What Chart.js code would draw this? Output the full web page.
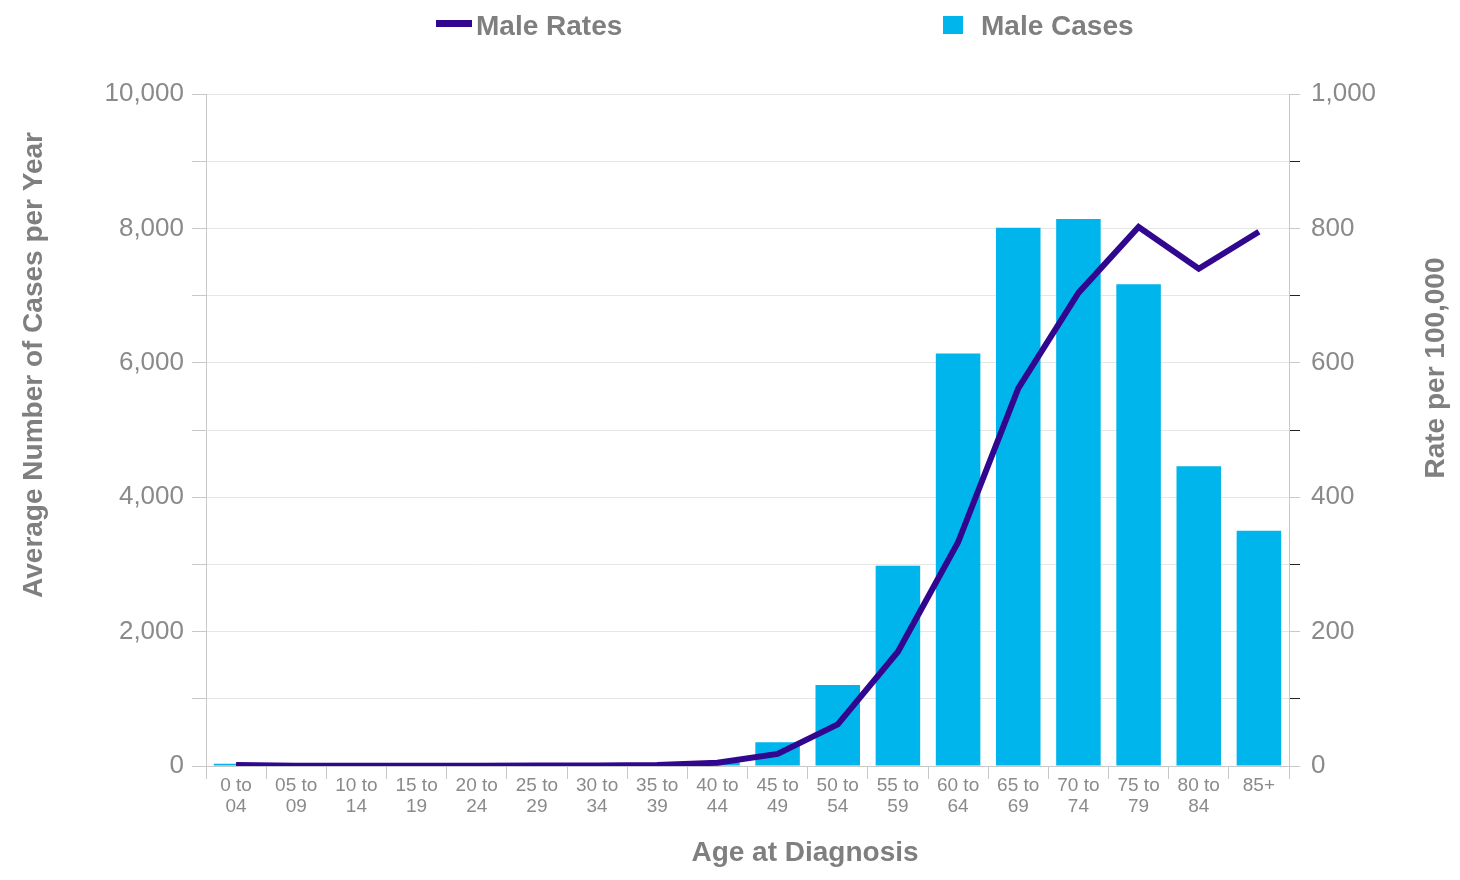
<!DOCTYPE html>
<html>
<head>
<meta charset="utf-8">
<title>Male Rates and Cases by Age</title>
<script src="https://cdn.jsdelivr.net/npm/chart.js@4/dist/chart.umd.min.js"></script>
<style>
  body { margin: 0; background: #fff; }
</style>
</head>
<body>
<canvas id="ageChart" width="1460" height="880"></canvas>
<script>
// DATA

const ageGroups = [
  "0 to 04", "05 to 09", "10 to 14", "15 to 19", "20 to 24", "25 to 29",
  "30 to 34", "35 to 39", "40 to 44", "45 to 49", "50 to 54", "55 to 59",
  "60 to 64", "65 to 69", "70 to 74", "75 to 79", "80 to 84", "85+",
];

// average number of cases per year (left axis)
const maleCases = [
  35, 3, 3, 5, 8, 12, 15, 25, 70, 355, 1205, 2980,
  6140, 8010, 8140, 7170, 4460, 3500,
];

// rate per 100,000 (right axis)
const maleRates = [
  1.5, 0.5, 0.5, 0.5, 0.5, 0.6, 0.8, 1.5, 5, 18, 62, 170,
  333, 562, 704, 802, 740, 795,
];

const caseTicks = { min: 0, max: 10000, step: 1000, labelEvery: 2000 };
const rateTicks = { min: 0, max: 1000, step: 100, labelEvery: 200 };

const FONT = '"Liberation Sans", Arial, sans-serif';
const GREY_TEXT = "#8a8a8a";
const GREY_TITLE = "#7f7f7f";
const AXIS_LINE = "#c8c8c8";

// legend + axis titles drawn by hand so they sit where the original has them
const overlay = {
  id: "overlay",
  afterDraw(chart) {
    const ctx = chart.ctx;
    const rates = chart.data.datasets[0];
    const cases = chart.data.datasets[1];
    ctx.save();

    // legend
    ctx.fillStyle = rates.borderColor;
    ctx.fillRect(436, 20, 36, 7);
    ctx.fillStyle = cases.backgroundColor;
    ctx.fillRect(943, 16, 20, 18);
    ctx.font = "bold 28px " + FONT;
    ctx.fillStyle = GREY_TITLE;
    ctx.textBaseline = "middle";
    ctx.textAlign = "left";
    ctx.fillText(rates.label, 476, 27);
    ctx.fillText(cases.label, 981, 27);

    // x title
    ctx.textAlign = "center";
    ctx.fillText("Age at Diagnosis", 805, 853);

    // y titles, both reading bottom to top
    ctx.translate(34, 365);
    ctx.rotate(-Math.PI / 2);
    ctx.fillText("Average Number of Cases per Year", 0, 0);
    ctx.rotate(Math.PI / 2);
    ctx.translate(1436 - 34, 368 - 365);
    ctx.rotate(-Math.PI / 2);
    ctx.fillText("Rate per 100,000", 0, 0);

    ctx.restore();
  },
};

const ageChart = document.getElementById("ageChart");

new Chart(ageChart, {
  type: "bar",
  data: {
    labels: ageGroups,
    datasets: [
      {
        type: "line",
        label: "Male Rates",
        data: maleRates,
        yAxisID: "yRate",
        borderColor: "#32078f",
        borderWidth: 6,
        borderJoinStyle: "miter",
        pointRadius: 0,
        tension: 0,
        order: 0,
      },
      {
        type: "bar",
        label: "Male Cases",
        data: maleCases,
        yAxisID: "yCases",
        backgroundColor: "#00b5ec",
        barPercentage: 0.74,
        categoryPercentage: 1.0,
        order: 1,
      },
    ],
  },
  options: {
    responsive: false,
    devicePixelRatio: 1,
    animation: false,
    layout: {
      padding: { top: 94, left: 0, right: 0, bottom: 0 },
    },
    plugins: {
      legend: { display: false },
      tooltip: { enabled: false },
    },
    scales: {
      x: {
        grid: {
          offset: true,
          drawOnChartArea: false,
          tickLength: 13,
          color: AXIS_LINE,
        },
        border: { color: AXIS_LINE },
        ticks: {
          autoSkip: false,
          maxRotation: 0,
          padding: -4,
          color: GREY_TEXT,
          font: { family: FONT, size: 19, lineHeight: 1.1 },
          callback: function (value) {
            const s = this.getLabelForValue(value);
            if (s.indexOf(" to ") < 0) return s;
            const i = s.lastIndexOf(" ");
            return [s.slice(0, i), s.slice(i + 1)];
          },
        },
        afterFit: (scale) => {
          scale.height = 114;
        },
      },
      yCases: {
        position: "left",
        min: caseTicks.min,
        max: caseTicks.max,
        grid: {
          color: "#e6e6e6",
          tickLength: 14,
          tickColor: AXIS_LINE,
        },
        border: { color: AXIS_LINE },
        ticks: {
          stepSize: caseTicks.step,
          padding: 8,
          color: GREY_TEXT,
          font: { family: FONT, size: 26 },
          callback: (v) => (v % caseTicks.labelEvery === 0 ? v.toLocaleString("en-US") : ""),
        },
        afterFit: (scale) => {
          scale.width = 206;
        },
      },
      yRate: {
        position: "right",
        min: rateTicks.min,
        max: rateTicks.max,
        grid: {
          drawOnChartArea: false,
          tickLength: 11,
          color: AXIS_LINE,
          tickColor: (ctx) =>
            ctx.tick && ctx.tick.value % rateTicks.labelEvery !== 0 ? "#222" : AXIS_LINE,
        },
        border: { color: AXIS_LINE },
        ticks: {
          stepSize: rateTicks.step,
          padding: 11,
          color: GREY_TEXT,
          font: { family: FONT, size: 26 },
          callback: (v) => (v % rateTicks.labelEvery === 0 ? v.toLocaleString("en-US") : ""),
        },
        afterFit: (scale) => {
          scale.width = 171;
        },
      },
    },
  },
  plugins: [overlay],
});
</script>
</body>
</html>
